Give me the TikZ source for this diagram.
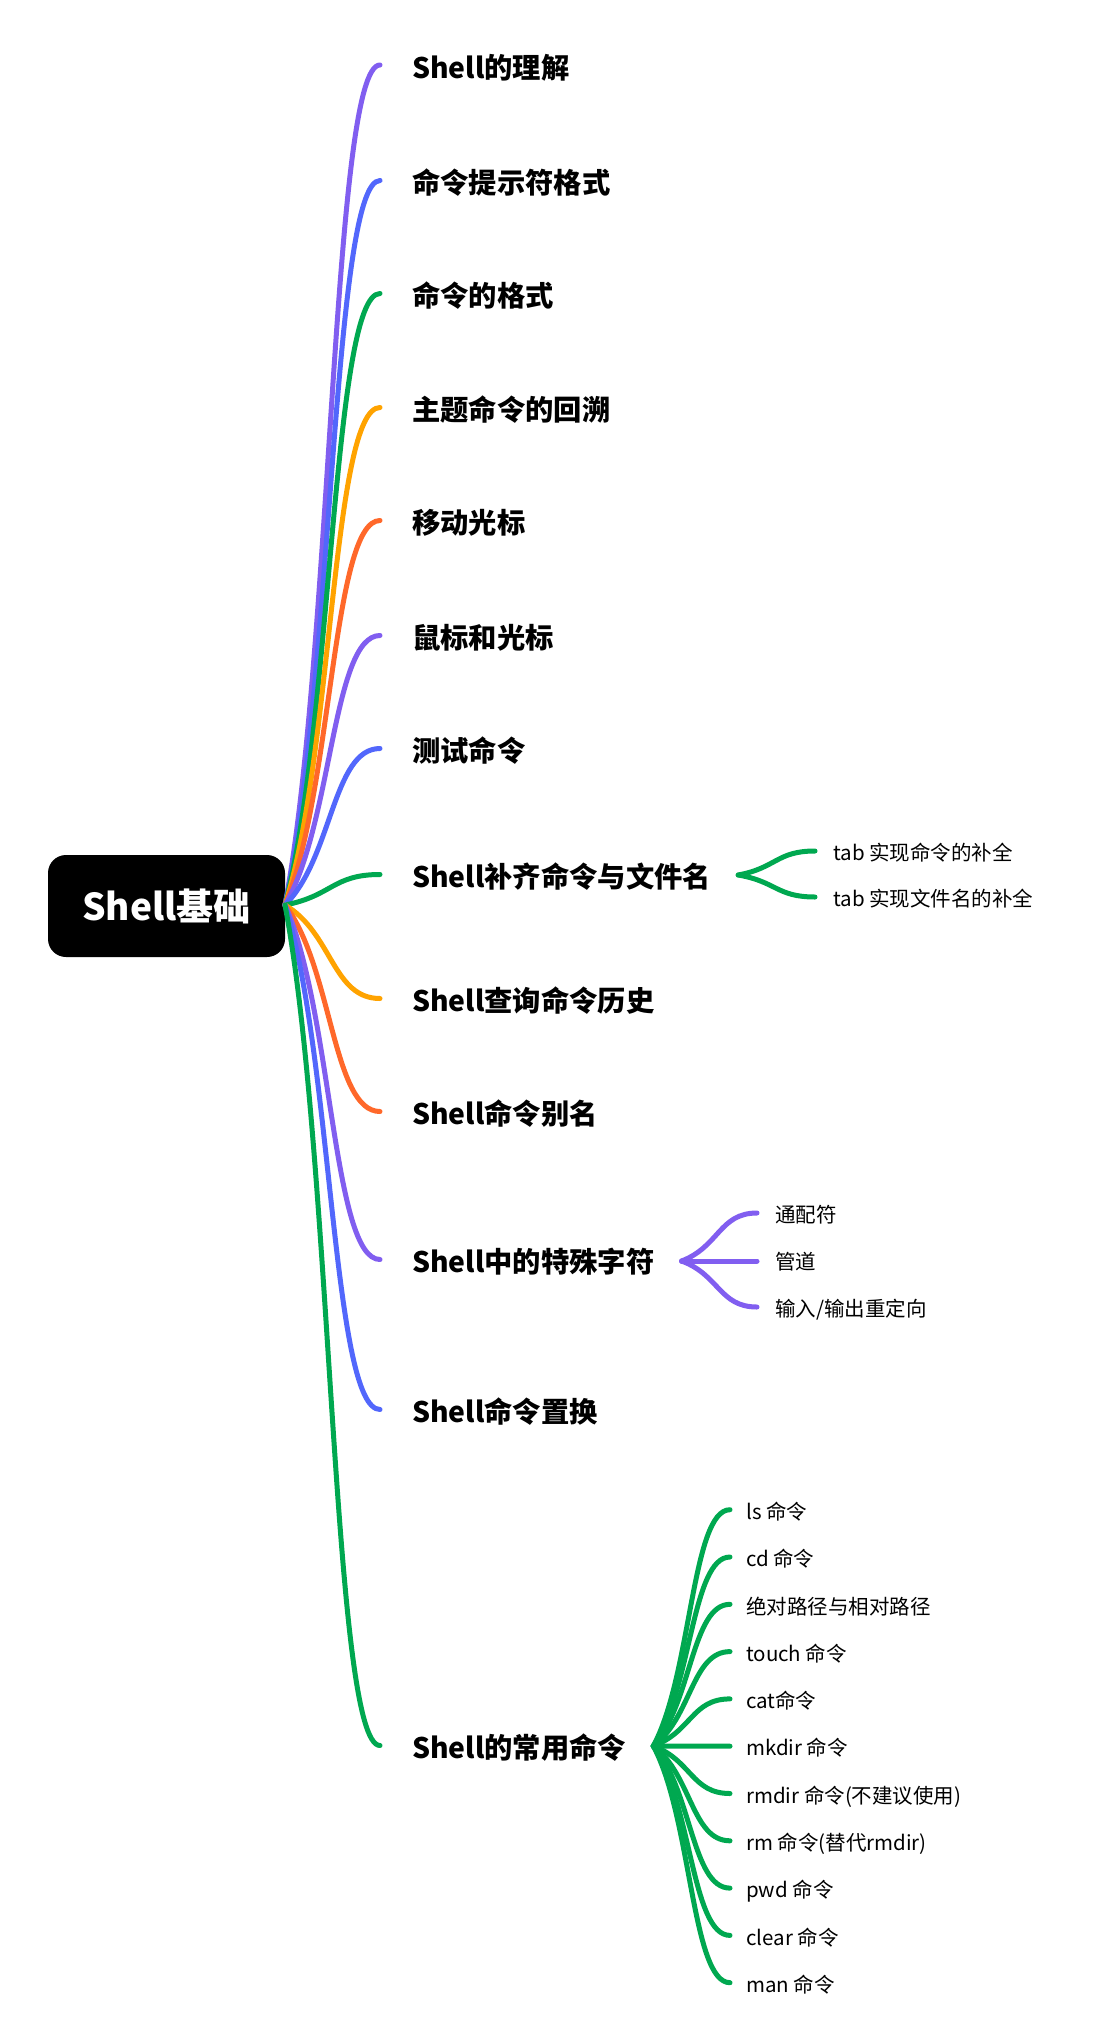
\documentclass[tikz,border=0pt]{standalone}
\usepackage{fontspec}
\setmainfont{Noto Sans CJK SC}
\usetikzlibrary{calc}
\definecolor{cpur}{RGB}{129,94,240}
\definecolor{cblu}{RGB}{82,103,252}
\definecolor{cgrn}{RGB}{0,168,80}
\definecolor{corg}{RGB}{255,163,0}
\definecolor{cred}{RGB}{255,104,42}
\tikzset{
  mainitem/.style={anchor=west, inner sep=0pt, text height=24.6pt, text depth=3.4pt,
    font=\fontsize{28.3}{34}\selectfont\bfseries},
  subitem/.style={anchor=west, inner sep=0pt, text height=18pt, text depth=2.5pt,
    font=\fontsize{20.5}{25}\selectfont},
  rootbox/.style={fill=black, rounded corners=18pt, minimum width=237pt, minimum height=102pt,
    inner sep=0pt, text=white, text height=32.5pt, text depth=4.5pt, font=\fontsize{37}{44}\selectfont\bfseries},
  conn/.style={line width=5pt, line cap=round}
}
\newcommand\branch[3]{%
  \draw[conn, draw=#1] let \p1=(#2), \p2=(#3) in
    (\p1) .. controls ({\x1+0.5*(\x2-\x1)},{\y1+0.3*(\y2-\y1)}) and ({\x1+0.5*(\x2-\x1)},{\y2}) .. (\p2);}
\begin{document}
\begin{tikzpicture}[x=1pt,y=-1pt]
\useasboundingbox[fill=white] (0,0) rectangle (1100,2036);
\node[rootbox] (root) at (166.5,906) {Shell基础};
\coordinate (r) at (285,905);
% main items
\node[mainitem] (b1) at (412,67.5) {Shell的理解};
\node[mainitem] (b2) at (412,183) {命令提示符格式};
\node[mainitem] (b3) at (412,296) {命令的格式};
\node[mainitem] (b4) at (412,410) {主题命令的回溯};
\node[mainitem] (b5) at (412,523) {移动光标};
\node[mainitem] (b6) at (412,638) {鼠标和光标};
\node[mainitem] (b7) at (412,751) {测试命令};
\node[mainitem] (b8) at (412,877) {Shell补齐命令与文件名};
\node[mainitem] (b9) at (412,1001) {Shell查询命令历史};
\node[mainitem] (b10) at (412,1114) {Shell命令别名};
\node[mainitem] (b11) at (412,1262) {Shell中的特殊字符};
\node[mainitem] (b12) at (412,1412) {Shell命令置换};
\node[mainitem] (b13) at (412,1748) {Shell的常用命令};
\branch{cpur}{r}{$(b1.west)+(-32,-2.5)$}
\branch{cblu}{r}{$(b2.west)+(-32,-2.5)$}
\branch{cgrn}{r}{$(b3.west)+(-32,-2.5)$}
\branch{corg}{r}{$(b4.west)+(-32,-2.5)$}
\branch{cred}{r}{$(b5.west)+(-32,-2.5)$}
\branch{cpur}{r}{$(b6.west)+(-32,-2.5)$}
\branch{cblu}{r}{$(b7.west)+(-32,-2.5)$}
\branch{cgrn}{r}{$(b8.west)+(-32,-2.5)$}
\branch{corg}{r}{$(b9.west)+(-32,-2.5)$}
\branch{cred}{r}{$(b10.west)+(-32,-2.5)$}
\branch{cpur}{r}{$(b11.west)+(-32,-2.5)$}
\branch{cblu}{r}{$(b12.west)+(-32,-2.5)$}
\branch{cgrn}{r}{$(b13.west)+(-32,-2.5)$}
% sub items of b8
\coordinate (j8) at ($(b8.east)+(27,-2)$);
\node[subitem] (s81) at (833,853) {tab 实现命令的补全};
\node[subitem] (s82) at (833,899) {tab 实现文件名的补全};
\branch{cgrn}{j8}{$(s81.west)+(-18,-2)$}
\branch{cgrn}{j8}{$(s82.west)+(-18,-2)$}
% sub items of b11
\coordinate (j11) at ($(b11.east)+(27,-1)$);
\node[subitem] (s111) at (775,1215) {通配符};
\node[subitem] (s112) at (775,1262) {管道};
\node[subitem] (s113) at (775,1309) {输入/输出重定向};
\branch{cpur}{j11}{$(s111.west)+(-18,-2)$}
\branch{cpur}{j11}{$(s112.west)+(-18,-1)$}
\branch{cpur}{j11}{$(s113.west)+(-18,-2)$}
% sub items of b13
\coordinate (j13) at ($(b13.east)+(27,-2)$);
\node[subitem] (c1) at (746,1511.7) {ls 命令};
\node[subitem] (c2) at (746,1559) {cd 命令};
\node[subitem] (c3) at (746,1606.3) {绝对路径与相对路径};
\node[subitem] (c4) at (746,1653.6) {touch 命令};
\node[subitem] (c5) at (746,1700.9) {cat命令};
\node[subitem] (c6) at (746,1748.2) {mkdir 命令};
\node[subitem] (c7) at (746,1795.5) {rmdir 命令(不建议使用)};
\node[subitem] (c8) at (746,1842.8) {rm 命令(替代rmdir)};
\node[subitem] (c9) at (746,1890.1) {pwd 命令};
\node[subitem] (c10) at (746,1937.4) {clear 命令};
\node[subitem] (c11) at (746,1984.7) {man 命令};
\foreach \i in {1,...,11}{\branch{cgrn}{j13}{$(c\i.west)+(-16,-2)$}}
\end{tikzpicture}
\end{document}
